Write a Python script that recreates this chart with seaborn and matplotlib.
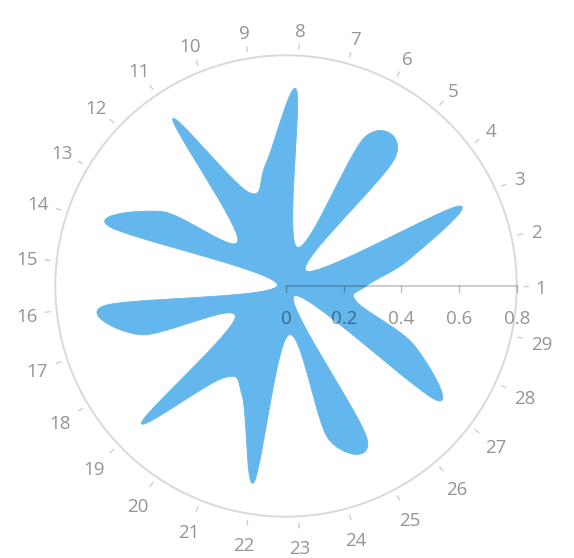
import numpy as np
import matplotlib
matplotlib.use("Agg")
import matplotlib.pyplot as plt
import seaborn as sns

# ---- data ----
categories = [str(i) for i in range(1, 30)]
values = [0.278, 0.44, 0.66, 0.087, 0.585, 0.585, 0.14, 0.68, 0.43, 0.35,
          0.70, 0.23, 0.50, 0.648, 0.03, 0.635, 0.53, 0.205, 0.69, 0.385,
          0.41, 0.69, 0.17, 0.55, 0.60, 0.045, 0.653, 0.49, 0.25]
radial_ticks = [0, 0.2, 0.4, 0.6, 0.8]
radial_labels = ["0", "0.2", "0.4", "0.6", "0.8"]

FILL = "#63b7ec"
LABEL = "#959595"

sns.set_theme(style="white")
plt.rcParams['font.family'] = ['Open Sans', 'DejaVu Sans']

n = len(values)
y = np.asarray(values, dtype=float)
step = 2 * np.pi / n
ang = np.arange(n) * step

# closed Catmull-Rom spline through the data points (cartesian)
P = np.column_stack([y * np.cos(ang), y * np.sin(ang)])
T = (np.roll(P, -1, axis=0) - np.roll(P, 1, axis=0)) / 2.0
t = np.linspace(0, 1, 80, endpoint=False)[:, None]
segs = []
for i in range(n):
    j = (i + 1) % n
    P0, P3 = P[i], P[j]
    P1, P2 = P[i] + T[i] / 3.0, P[j] - T[j] / 3.0
    segs.append(((1 - t) ** 3) * P0 + 3 * ((1 - t) ** 2) * t * P1
                + 3 * (1 - t) * t ** 2 * P2 + t ** 3 * P3)
xy = np.vstack(segs + [segs[0][:1]])
theta_curve = np.unwrap(np.arctan2(xy[:, 1], xy[:, 0]))
r_curve = np.hypot(xy[:, 0], xy[:, 1])

# ---- layout ----
W, H = 574, 558
cx, cy = 286, 286
R08 = 230.7           # pixels for 0.8
RSP = 243.0           # outer end of category ticks
RMAX = 0.8 * RSP / R08
px = 0.8 / R08        # data units per pixel

fig = plt.figure(figsize=(W / 100, H / 100), dpi=100)
ax = fig.add_axes([(cx - RSP) / W, (H - cy - RSP) / H, 2 * RSP / W, 2 * RSP / H],
                  projection='polar')
ax.set_ylim(0, RMAX)
ax.spines['polar'].set_visible(False)
ax.set_facecolor('white')

# outer circle as the single radial grid line
ax.set_yticks([0.8])
ax.set_yticklabels([])
ax.yaxis.grid(True, color='#d9d9d9', linewidth=1.4)
ax.tick_params(axis='y', left=False, right=False)

# category ticks / labels
ax.xaxis.grid(False)
ax.set_xticks(ang)
ax.set_xticklabels([])
ax.tick_params(axis='x', bottom=False, top=False)
ax.vlines(ang, 237 * px, RSP * px, colors='#cfcfcf', linewidth=1.0, zorder=1)
for a, lab in zip(ang, categories):
    w = 9.5 * len(lab)
    c, s = np.cos(a), np.sin(a)
    rpx = 250 + abs(c) * w / 2 + abs(s) * 7 + (3 * abs(s) if s < 0 else 0)
    ax.annotate(lab, xy=(a, rpx * px), xytext=(0, -1.8), textcoords='offset points',
                ha='center', va='center', fontsize=13.5, color=LABEL,
                annotation_clip=False)

# series: spline area
ax.fill(theta_curve, r_curve, color=FILL, zorder=2, linewidth=0)
sns.lineplot(x=theta_curve, y=r_curve, ax=ax, sort=False, estimator=None,
             color=FILL, linewidth=0.6, zorder=2.1)

# radial axis along angle 0
ax.plot([0, 0], [0, 0.8], color=(0, 0, 0, 0.25), linewidth=1.1, zorder=3)
ax.plot([0] * len(radial_ticks), radial_ticks, linestyle='none', marker=3,
        markersize=4.3, markeredgewidth=1.0, color=(0, 0, 0, 0.25), zorder=3)
for v, s in zip(radial_ticks, radial_labels):
    ax.annotate(s, xy=(0, v), xytext=(0, -23.5), textcoords='offset points',
                ha='center', va='center', fontsize=13.5,
                color=(0, 0, 0, 0.42), zorder=4, annotation_clip=False)

fig.savefig('out.png', dpi=100)
